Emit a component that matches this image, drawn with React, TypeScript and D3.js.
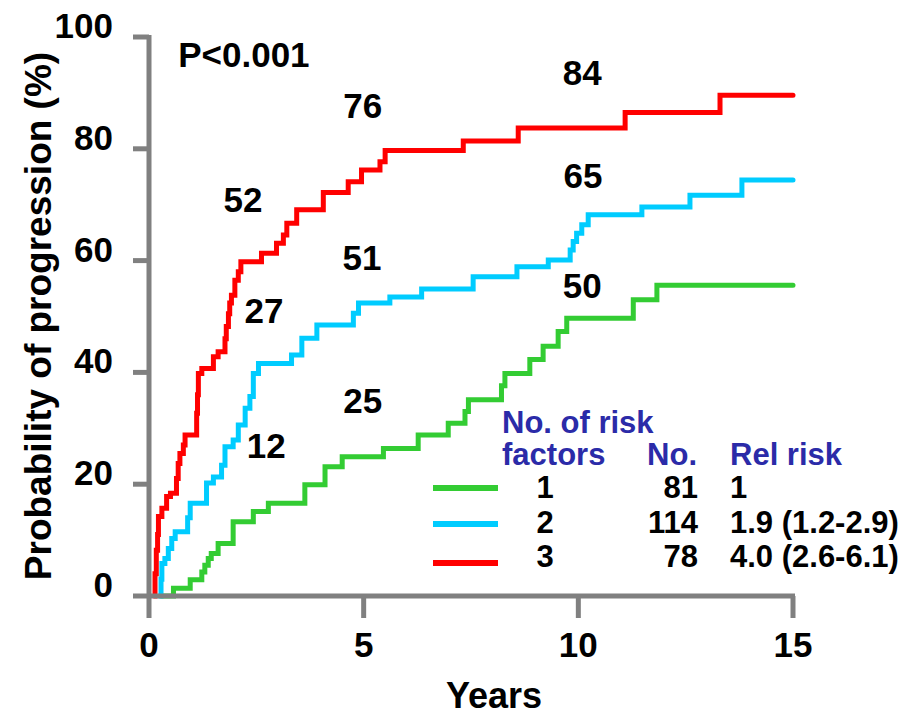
import { useEffect, useRef } from 'react';
import * as d3 from 'd3';

// step points: year where the step happens, probability (%) after it
const greenYears = [0.28, 0.57, 0.96, 1.23, 1.30, 1.38, 1.45, 1.61, 1.96, 2.43, 2.78, 3.63, 4.10, 4.50, 5.46, 6.27, 6.97, 7.36, 7.44, 8.21, 8.29, 8.87, 9.18, 9.53, 9.73, 11.28, 11.83];
const greenProb = [0, 1.4, 2.9, 4.3, 5.5, 6.7, 7.6, 9.4, 13.3, 15.1, 16.6, 19.9, 23.1, 24.9, 26.4, 28.8, 30.9, 33.0, 35.1, 37.6, 39.8, 42.3, 44.7, 47.3, 49.7, 53.0, 55.6];

const blueYears = [0.24, 0.28, 0.30, 0.37, 0.45, 0.53, 0.61, 0.90, 0.96, 1.34, 1.50, 1.69, 1.77, 1.96, 2.08, 2.24, 2.35, 2.43, 2.55, 3.32, 3.56, 3.91, 4.76, 4.88, 5.61, 6.35, 7.55, 8.57, 9.30, 9.81, 9.88, 9.96, 10.08, 10.23, 11.48, 12.60, 13.81];
const blueProb = [0, 3, 5.8, 6.7, 8.5, 10.3, 11.5, 14, 16.6, 20.2, 21.3, 23.4, 26.7, 27.9, 30.6, 33.6, 35.7, 39.8, 41.6, 43.1, 46.1, 48.5, 50.6, 52.4, 53.5, 54.9, 57.1, 58.9, 60.1, 61.9, 63.4, 64.9, 66.4, 68.2, 69.6, 71.7, 74.4];

const redYears = [0.12, 0.14, 0.17, 0.20, 0.22, 0.30, 0.41, 0.50, 0.64, 0.68, 0.72, 0.80, 0.84, 1.11, 1.13, 1.15, 1.23, 1.50, 1.61, 1.77, 1.80, 1.85, 1.88, 1.92, 2.00, 2.08, 2.14, 2.62, 2.97, 3.13, 3.21, 3.44, 4.06, 4.64, 4.95, 5.38, 5.50, 7.32, 8.60, 11.09, 13.30];
const redProb = [0, 4, 8.2, 11, 14.2, 15.7, 17.8, 18.4, 21, 23.7, 25.5, 27, 28.8, 32.7, 36, 39.8, 40.7, 42.8, 43.7, 46, 48.2, 50.5, 52.4, 53.8, 56.5, 58, 59.8, 61.3, 63.1, 64.6, 66.7, 69.1, 72.2, 74.1, 76.2, 77.7, 79.7, 81.4, 83.7, 86.5, 89.6];

const xTicks = [0, 5, 10, 15];
const yTicks = [0, 20, 40, 60, 80, 100];

// number-at-risk style labels placed on the plot (year, prob of label centre)
const noteText = ['76', '84', '52', '51', '65', '27', '50', '25', '12'];
const noteYear = [4.98, 10.09, 2.19, 4.96, 10.11, 2.68, 10.09, 4.98, 2.73];
const noteProb = [87.7, 93.6, 71.0, 60.5, 75.3, 51.0, 55.5, 34.9, 27.0];

const riskFactors = ['1', '2', '3'];
const patients = ['81', '114', '78'];
const relRisk = ['1', '1.9 (1.2-2.9)', '4.0 (2.6-6.1)'];
const colors = ['#33cc33', '#00ccff', '#ff0000'];

const FONT = '"Liberation Sans", Arial, sans-serif';
const W = 912;
const H = 714;

export default function App() {
    const svgRef = useRef<SVGSVGElement>(null);

    useEffect(() => {
        if (!svgRef.current) return;
        const svg = d3.select(svgRef.current);
        svg.selectAll('*').remove();

        const x = d3.scaleLinear().domain([0, 15]).range([149, 793]);
        const y = d3.scaleLinear().domain([0, 100]).range([596, 37]);

        const series = [
            { years: greenYears, prob: greenProb, color: colors[0] },
            { years: blueYears, prob: blueProb, color: colors[1] },
            { years: redYears, prob: redProb, color: colors[2] },
        ];

        const line = d3.line<[number, number]>()
            .x(d => x(d[0]))
            .y(d => y(d[1]))
            .curve(d3.curveStepAfter);

        // curves
        series.forEach(s => {
            const pts: [number, number][] = s.years.map((t, i) => [t, s.prob[i]]);
            pts.push([15, s.prob[s.prob.length - 1]]);
            svg.append('path')
                .attr('d', line(pts))
                .attr('fill', 'none')
                .attr('stroke', s.color)
                .attr('stroke-width', 5)
                .attr('stroke-linejoin', 'miter')
                .attr('stroke-linecap', 'round');
        });

        // axes (gray, drawn on top like the original)
        const axis = svg.append('g').attr('stroke', '#808080').attr('stroke-width', 5);
        axis.append('line')
            .attr('x1', x(0) - 16).attr('x2', x(15) + 2)
            .attr('y1', y(0)).attr('y2', y(0));
        axis.append('line')
            .attr('x1', x(0)).attr('x2', x(0))
            .attr('y1', y(100) - 2).attr('y2', y(0) + 22);
        axis.selectAll('.yt')
            .data(yTicks.filter(v => v > 0))
            .join('line')
            .attr('x1', x(0) - 16).attr('x2', x(0))
            .attr('y1', d => y(d)).attr('y2', d => y(d));
        axis.selectAll('.xt')
            .data(xTicks.filter(v => v > 0))
            .join('line')
            .attr('x1', d => x(d)).attr('x2', d => x(d))
            .attr('y1', y(0)).attr('y2', y(0) + 22);

        const text = svg.append('g')
            .attr('font-family', FONT)
            .attr('font-weight', 'bold')
            .attr('fill', '#000');

        text.selectAll('.ylab')
            .data(yTicks)
            .join('text')
            .attr('x', 113)
            .attr('y', d => y(d) + 1)
            .attr('text-anchor', 'end')
            .attr('font-size', 35)
            .text(d => d);

        text.selectAll('.xlab')
            .data(xTicks)
            .join('text')
            .attr('x', d => x(d))
            .attr('y', 657)
            .attr('text-anchor', 'middle')
            .attr('font-size', 35)
            .text(d => d);

        text.append('text')
            .attr('x', 494)
            .attr('y', 708)
            .attr('text-anchor', 'middle')
            .attr('font-size', 36)
            .text('Years');

        text.append('text')
            .attr('transform', 'translate(51,316) rotate(-90)')
            .attr('text-anchor', 'middle')
            .attr('font-size', 37)
            .text('Probability of progression (%)');

        text.append('text')
            .attr('x', x(0.68))
            .attr('y', y(96.8) + 12.5)
            .attr('font-size', 35)
            .text('P<0.001');

        text.selectAll('.note')
            .data(noteText)
            .join('text')
            .attr('x', (d, i) => x(noteYear[i]))
            .attr('y', (d, i) => y(noteProb[i]) + 12.5)
            .attr('text-anchor', 'middle')
            .attr('font-size', 35)
            .text(d => d);

        // legend
        const legend = svg.append('g')
            .attr('font-family', FONT)
            .attr('font-weight', 'bold')
            .attr('font-size', 31);
        legend.append('text').attr('x', 502).attr('y', 433).attr('fill', '#2b2ba8').text('No. of risk');
        legend.append('text').attr('x', 502).attr('y', 465).attr('fill', '#2b2ba8').text('factors');
        legend.append('text').attr('x', 697).attr('y', 465).attr('fill', '#2b2ba8').attr('text-anchor', 'end').text('No.');
        legend.append('text').attr('x', 730).attr('y', 465).attr('fill', '#2b2ba8').text('Rel risk');

        const lineY = [488, 524, 563];
        const textY = [498, 533, 567];
        riskFactors.forEach((r, i) => {
            legend.append('line')
                .attr('x1', 433).attr('x2', 498)
                .attr('y1', lineY[i]).attr('y2', lineY[i])
                .attr('stroke', colors[i])
                .attr('stroke-width', 6);
            legend.append('text').attr('x', 545).attr('y', textY[i]).attr('text-anchor', 'middle').text(r);
            legend.append('text').attr('x', 698).attr('y', textY[i]).attr('text-anchor', 'end').text(patients[i]);
            legend.append('text').attr('x', 730).attr('y', textY[i]).text(relRisk[i]);
        });
    }, []);

    return (
        <svg
            ref={svgRef}
            width={W}
            height={H}
            style={{ position: 'absolute', left: 0, top: 0, background: '#fff' }}
        />
    );
}
